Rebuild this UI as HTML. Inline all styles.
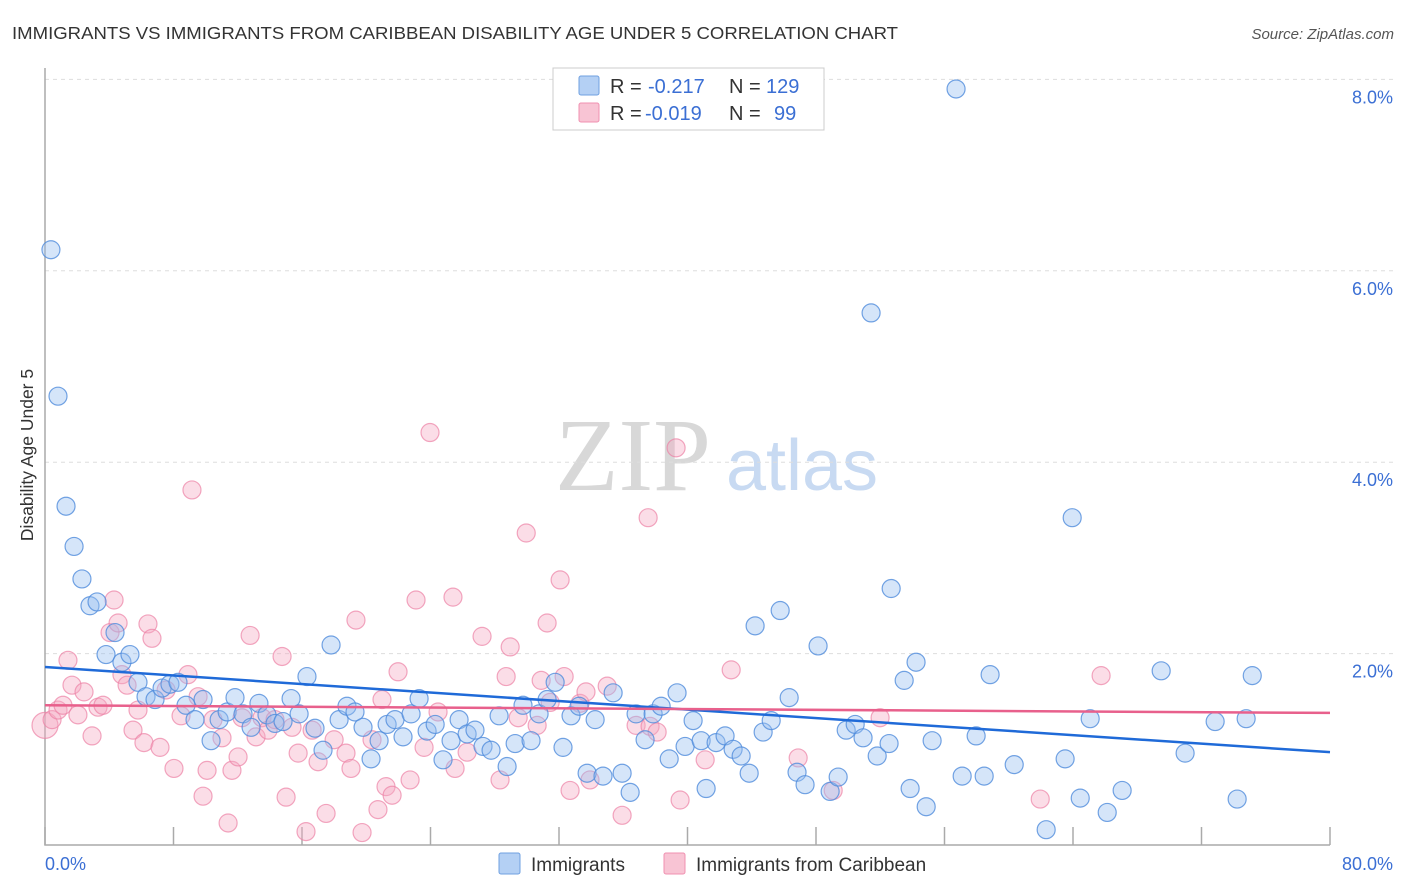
<!DOCTYPE html>
<html><head><meta charset="utf-8">
<style>
body{margin:0;background:#fff;font-family:"Liberation Sans",sans-serif;}
svg{display:block}
</style></head>
<body>
<svg id="chart" width="1406" height="892" xmlns="http://www.w3.org/2000/svg">
<text x="12" y="39" font-size="17.5" fill="#333" textLength="886" lengthAdjust="spacingAndGlyphs">IMMIGRANTS VS IMMIGRANTS FROM CARIBBEAN DISABILITY AGE UNDER 5 CORRELATION CHART</text>
<text x="1394" y="39" font-size="15" fill="#555" font-style="italic" text-anchor="end">Source: ZipAtlas.com</text>
<g>
<text x="633" y="490" font-size="104" fill="#d8d8d8" font-family="Liberation Serif,serif" text-anchor="middle">ZIP</text>
<text x="802" y="490" font-size="72" fill="#c8daf2" text-anchor="middle">atlas</text>
</g>
<g id="grid"></g>
<g id="axes"></g>
<g id="pts"></g>
<g id="trend"></g>
<text transform="translate(33,455) rotate(-90)" font-size="17.5" fill="#333" text-anchor="middle">Disability Age Under 5</text>
<text x="45" y="870" font-size="18" fill="#3b6fd4">0.0%</text>
<text x="1393" y="870" font-size="18" fill="#3b6fd4" text-anchor="end">80.0%</text>
<g>
<rect x="553" y="68" width="271" height="62" fill="#fff" stroke="#ccc"/>
<rect x="579" y="76" width="20" height="19" fill="#b4d0f4" stroke="#6fa0e0" rx="2"/>
<rect x="579" y="103" width="20" height="19" fill="#f8c4d4" stroke="#f090b0" rx="2"/>
<g font-size="20" fill="#333">
<text x="610" y="93">R =</text><text x="648" y="93" fill="#3b6fd4">-0.217</text>
<text x="729" y="93">N =</text><text x="766" y="93" fill="#3b6fd4">129</text>
<text x="610" y="120">R =</text><text x="645" y="120" fill="#3b6fd4">-0.019</text>
<text x="729" y="120">N =</text><text x="774" y="120" fill="#3b6fd4">99</text>
</g>
</g>
<g>
<rect x="499" y="853" width="21" height="21" fill="#b4d0f4" stroke="#6fa0e0" rx="2"/>
<text x="531" y="871" font-size="19" fill="#333">Immigrants</text>
<rect x="664" y="853" width="21" height="21" fill="#f8c4d4" stroke="#f090b0" rx="2"/>
<text x="696" y="871" font-size="19" fill="#333">Immigrants from Caribbean</text>
</g>
</svg>
<script>
const yTicks=[2,4,6,8];
const yTickLabels=["2.0%","4.0%","6.0%","8.0%"];
const xTicks=[0,8,16,24,32,40,48,56,64,72,80];
const blueX=[0.37,0.81,1.31,1.81,2.30,2.80,3.24,4.36,3.80,4.79,5.29,5.79,6.29,6.85,7.29,7.78,8.28,8.78,9.34,9.84,10.34,10.84,11.34,11.83,12.33,12.83,13.32,13.82,14.32,14.82,15.32,15.82,16.31,16.81,17.31,17.81,18.31,18.80,19.30,19.80,20.30,20.80,21.30,21.79,22.29,22.79,23.29,23.79,24.29,24.78,25.28,25.78,26.28,26.77,27.27,27.77,28.27,28.77,29.27,29.76,30.26,30.76,31.26,31.76,32.25,32.75,33.25,33.75,34.25,34.74,35.37,35.93,36.43,36.80,37.36,37.86,38.36,38.86,39.35,39.85,40.35,40.85,41.16,41.78,42.34,42.84,43.34,43.84,44.21,44.71,45.21,45.77,46.33,46.82,47.32,48.13,48.88,49.38,49.88,50.44,50.93,51.43,51.81,52.55,52.68,53.49,53.86,54.23,54.86,55.23,56.72,57.10,57.97,58.47,58.84,60.34,62.33,63.51,63.95,64.45,65.07,66.13,67.06,69.49,70.98,72.85,74.22,74.78,75.16];
const blueY=[6.22,4.69,3.54,3.12,2.78,2.50,2.54,2.22,1.99,1.91,1.99,1.70,1.55,1.52,1.64,1.68,1.70,1.46,1.31,1.52,1.09,1.31,1.39,1.54,1.37,1.23,1.48,1.36,1.27,1.29,1.53,1.37,1.76,1.22,0.99,2.09,1.31,1.45,1.39,1.23,0.90,1.09,1.26,1.31,1.13,1.37,1.53,1.19,1.26,0.89,1.09,1.31,1.16,1.20,1.03,0.99,1.35,0.82,1.06,1.46,1.09,1.37,1.52,1.70,1.02,1.35,1.45,0.75,1.31,0.72,1.59,0.75,0.55,1.37,1.10,1.37,1.45,0.90,1.59,1.03,1.30,1.09,0.59,1.07,1.14,1.00,0.93,0.75,2.29,1.18,1.30,2.45,1.54,0.76,0.63,2.08,0.56,0.71,1.20,1.26,1.12,5.56,0.93,1.06,2.68,1.72,0.59,1.91,0.40,1.09,7.90,0.72,1.14,0.72,1.78,0.84,0.16,0.90,3.42,0.49,1.32,0.34,0.57,1.82,0.96,1.29,0.48,1.32,1.77];
const pinkX=[0,0.44,0.81,1.12,1.43,1.68,2.05,2.43,2.93,3.30,3.61,4.05,4.30,4.55,4.79,5.11,5.48,5.79,6.16,6.41,6.66,7.16,7.54,8.03,8.47,8.90,9.15,9.53,9.84,10.09,10.46,11.02,11.40,11.64,12.02,12.27,12.77,13.14,13.51,13.89,14.32,14.76,15.01,15.38,15.76,16.25,16.63,17.00,17.50,18.00,18.74,19.05,19.36,19.74,20.36,20.73,20.98,21.23,21.61,21.98,22.73,23.10,23.60,23.97,24.47,25.40,25.53,26.28,27.21,28.33,28.71,28.96,29.46,29.96,30.64,30.89,31.26,31.45,32.07,32.32,32.69,33.31,33.68,33.93,35.0,35.93,36.80,37.55,37.67,38.11,39.29,39.54,41.10,42.72,46.89,49.07,51.99,61.96,65.75];
const pinkY=[1.25,1.31,1.41,1.46,1.93,1.67,1.36,1.60,1.14,1.44,1.46,2.22,2.56,2.32,1.78,1.67,1.20,1.41,1.07,2.31,2.16,1.02,1.62,0.80,1.35,1.78,3.71,1.55,0.51,0.78,1.31,1.12,0.23,0.78,0.92,1.33,2.19,1.13,1.33,1.20,1.31,1.97,0.50,1.23,0.96,0.14,1.20,0.87,0.33,1.10,0.96,0.80,2.35,0.13,1.10,0.37,1.52,0.61,0.52,1.81,0.68,2.56,1.02,4.31,1.39,2.59,0.80,0.97,2.18,0.68,1.76,2.07,1.33,3.26,1.25,1.72,2.32,1.49,2.77,1.76,0.57,1.48,1.60,0.68,1.66,0.31,1.25,3.42,1.24,1.18,4.15,0.47,0.89,1.83,0.91,0.57,1.33,0.48,1.77];
const blueTrend=[1.86,0.97];
const pinkTrend=[1.46,1.38];
const X0=45,X1=1330,Y0=845,PXY=95.7;
const sx=v=>X0+(X1-X0)*v/80;
const sy=v=>Y0-v*PXY;
const NS='http://www.w3.org/2000/svg';
function mk(parent,tag,attrs){const e=document.createElementNS(NS,tag);for(const k in attrs)e.setAttribute(k,attrs[k]);document.getElementById(parent).appendChild(e);return e;}
yTicks.forEach((t,i)=>{
 const l=mk('grid','line',{x1:X0,x2:1393,y1:sy(t),y2:sy(t),stroke:'#ddd','stroke-dasharray':'4,4'});
 
 
 const tx=mk('grid','text',{x:1393,y:sy(t)+24,'font-size':18,fill:'#3b6fd4','text-anchor':'end'});
 tx.textContent=yTickLabels[i];
 
 
});
const ax=mk('axes','path',{d:`M${X0},68V${Y0}H${X1}`,stroke:'#aaa',fill:'none','stroke-width':1.5});


xTicks.forEach(t=>{
 const l=mk('axes','line',{x1:sx(t),x2:sx(t),y1:Y0,y2:Y0-18,stroke:'#aaa','stroke-width':1.5});
 
 
});
pinkX.forEach((x,i)=>{
 const c=mk('pts','circle',{cx:sx(x),cy:sy(pinkY[i]),r:i==0?13:9,fill:'rgba(245,170,195,0.4)',stroke:'rgba(236,130,165,0.7)','stroke-width':1.2});
 
 
});
blueX.forEach((x,i)=>{
 const c=mk('pts','circle',{cx:sx(x),cy:sy(blueY[i]),r:9,fill:'rgba(150,190,240,0.4)',stroke:'rgba(80,140,220,0.8)','stroke-width':1.2});
 
 
});
const bt=mk('trend','line',{x1:sx(0),x2:sx(80),y1:sy(blueTrend[0]),y2:sy(blueTrend[1]),stroke:'#1f6ad8','stroke-width':2.5});


const pt=mk('trend','line',{x1:sx(0),x2:sx(80),y1:sy(pinkTrend[0]),y2:sy(pinkTrend[1]),stroke:'#e8608c','stroke-width':2.5});


</script>
</body></html>
